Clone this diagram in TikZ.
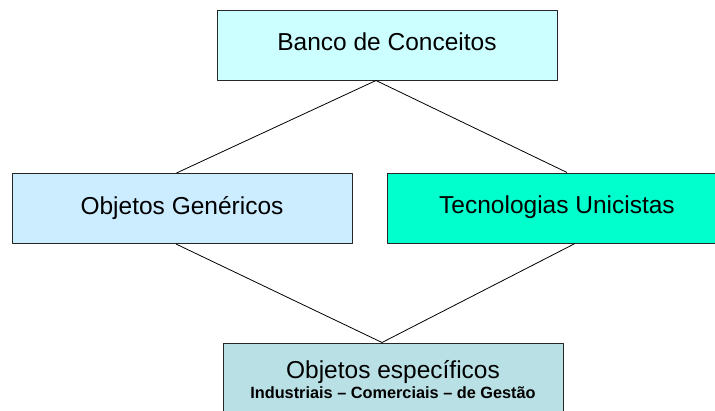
\documentclass[tikz,border=0pt]{standalone}
\usepackage{fontspec}
\setmainfont{Liberation Sans}
\definecolor{conceitosfill}{HTML}{CCFFFF}
\definecolor{genericosfill}{HTML}{CCECFF}
\definecolor{tecnologiasfill}{HTML}{00FFCC}
\definecolor{especificosfill}{RGB}{185,224,228}
\tikzset{
  levelbox/.style={draw=black!85,line width=1pt,minimum width=340pt,text height=17pt,text depth=6pt,
    font=\fontsize{24.5}{20}\selectfont},
}
\begin{document}
\begin{tikzpicture}[x=1pt,y=-1pt,line join=bevel,]
\useasboundingbox (0,0) rectangle (715,410);
%%
\node (conceitos) at (387,45) [levelbox,minimum height=70pt,fill=conceitosfill] {Banco de Conceitos};
  \node (genericos) at (182,208.5) [levelbox,minimum height=70pt,fill=genericosfill] {Objetos Genéricos};
  \node (tecnologias) at (557,208) [levelbox,minimum height=70pt,fill=tecnologiasfill] {Tecnologias Unicistas};
  \node (especificos) at (393,380) [levelbox,minimum height=74pt,text height=,text depth=,align=center,fill=especificosfill]
    {Objetos específicos\\{\fontsize{16.3}{20}\selectfont\bfseries Industriais – Comerciais – de Gestão}};
%
  \draw [black,line width=0.8pt] ([xshift=-5.5pt]genericos.north) -- ([xshift=-11pt]conceitos.south) -- ([xshift=10pt]tecnologias.north);
  \draw [black,line width=0.8pt] ([xshift=-6pt]genericos.south) -- ([xshift=-11pt]especificos.north) -- ([xshift=18pt]tecnologias.south);
%
\end{tikzpicture}
\end{document}
